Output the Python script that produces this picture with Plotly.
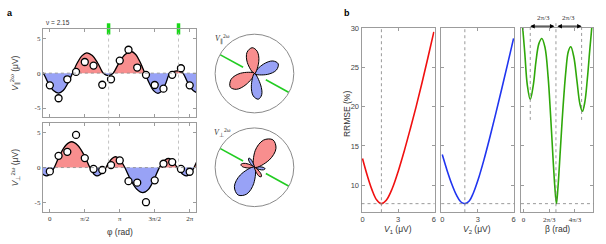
import numpy as np
import plotly.graph_objects as go

PI = np.pi
W, H = 606, 244

# ---------------- data ----------------
PHI_PTS = [k * PI / 8 for k in range(17)]
V_PAR_PTS = [-1.75, -3.6, -0.88, 0.18, 1.6, 1.08, -1.66, -0.88, 1.8, 3.35,
             0.8, -0.24, -1.7, -2.22, -0.24, 0.7, -1.75]
V_PERP_PTS = [-0.55, 1.68, 2.25, 4.68, 1.36, -0.2, -0.35, 0.35, 1.02, -1.95,
              -2.16, -4.96, -1.83, 0.55, 0.78, -0.2, -0.6]

PHI_PAR_CURVE = [-0.42, -0.30, -0.07, 0.16, 0.39, 0.60, 0.81, 1.02,
                 1.23, 1.45, 1.66, 1.91, 2.15, 2.40,
                 2.51, 2.63, 2.74, 2.85,
                 3.12, 3.38, 3.65, 3.86, 4.06, 4.27,
                 4.47, 4.66, 4.86, 5.04, 5.21, 5.39,
                 5.55, 5.72, 5.86, 5.98,
                 6.21, 6.44, 6.67]
V_PAR_CURVE = [0.23, 0.0, -1.44, -2.49, -2.87, -2.49, -1.44, 0.0,
               1.45, 2.51, 2.9, 2.51, 1.45, 0.0,
               -0.24, -0.33, -0.24, 0.0,
               1.55, 2.68, 3.1, 2.68, 1.55, 0.0,
               -1.45, -2.51, -2.9, -2.51, -1.45, 0.0,
               0.23, 0.33, 0.23, 0.0,
               -1.44, -2.49, -2.87]

PHI_PERP_CURVE = [-0.56, -0.42, -0.28, -0.14, -0.03, 0.09, 0.20,
                  0.46, 0.72, 0.98, 1.25, 1.53, 1.80,
                  1.91, 2.01, 2.12, 2.25, 2.39, 2.52,
                  2.66, 2.81, 2.95, 3.09, 3.23, 3.37,
                  3.64, 3.91, 4.18, 4.43, 4.67, 4.92,
                  5.06, 5.19, 5.33, 5.46, 5.59, 5.72,
                  5.86, 6.00, 6.14, 6.25, 6.37, 6.48,
                  6.74]
V_PERP_CURVE = [0.0, -0.6, -1.04, -1.2, -1.04, -0.6, 0.0,
                1.85, 3.2, 3.7, 3.2, 1.85, 0.0,
                -0.6, -1.04, -1.2, -1.04, -0.6, 0.0,
                0.78, 1.34, 1.55, 1.34, 0.78, 0.0,
                -1.8, -3.12, -3.6, -3.12, -1.8, 0.0,
                0.65, 1.13, 1.3, 1.13, 0.65, 0.0,
                -0.6, -1.04, -1.2, -1.04, -0.6, 0.0,
                1.85]

BETA_FIT = 2.64
V1_FIT = 1.59
V2_FIT = 1.90
RRMSE_MIN = 7.66

V1_GRID = [0, 0.4, 0.8, 1.2, 1.59, 2.0, 2.5, 3.0, 3.5, 4.0, 4.5, 5.0, 5.5, 6.0]
RRMSE_V1 = [13.4, 11.24, 9.41, 8.12, 7.66, 8.09, 9.58, 11.76, 14.3, 17.06,
            19.93, 23.0, 26.2, 29.5]
V2_GRID = [0, 0.4, 0.8, 1.2, 1.55, 1.9, 2.25, 2.6, 3.0, 3.5, 4.0, 4.5, 5.0,
           5.5, 6.0]
RRMSE_V2 = [13.9, 11.92, 10.16, 8.73, 7.9, 7.66, 7.96, 8.95, 10.62, 13.19,
            16.06, 19.1, 22.23, 25.42, 28.66]
BETA_GRID = [-0.3, -0.1, 0.1, 0.3, 0.545, 0.8, 1.0, 1.25, 1.49, 1.75, 2.0,
             2.2, 2.4, 2.55, 2.68, 2.8, 3.0, 3.2, 3.45, 3.65, 3.85, 4.1,
             4.35, 4.6, 4.8, 5.0, 5.2, 5.4, 5.56, 5.75]
RRMSE_BETA = [33.0, 30.4, 26.8, 22.8, 20.9, 22.8, 25.6, 28.0, 28.66, 27.5,
              23.8, 19.0, 13.5, 9.8, 7.66, 9.6, 14.5, 19.5, 24.5, 27.0, 27.6,
              26.3, 23.3, 20.3, 19.4, 20.6, 23.5, 27.2, 30.0, 33.5]
SIDE_MIN_LEVEL = 18.3

PHI_TICKS = [0, PI / 2, PI, 3 * PI / 2, 2 * PI]
PHI_TICK_TEXT = ["0", "π/2", "π", "3π/2", "2π"]
A_Y_TICKS = [-5, 0, 5]
A_Y_TICK_TEXT = ["-5", "0", "5"]
V_TICKS = [0, 3, 6]
R_TICKS = [10, 15, 20, 25, 30]
BETA_TICKS = [0, 2 * PI / 3, 4 * PI / 3]
BETA_TICK_TEXT = ["0", "2π/3", "4π/3"]

# ---------------- style ----------------
RED_FILL = "rgb(248,142,142)"
BLUE_FILL = "rgb(152,162,246)"
AX_COL = "#9c9c9c"
TXT = "#333333"
SERIF = "Liberation Serif"
SANS = "Liberation Sans"


def px_x(p):
    return p / W


def px_y(p):
    return 1 - p / H


A_X_DOM = [px_x(42), px_x(196)]
A_X_RANGE = [-0.313, 6.583]
A1_Y_DOM = [px_y(115), px_y(25.3)]
A2_Y_DOM = [px_y(211), px_y(121.3)]
A_Y_RANGE = [-6.30, 6.34]
B_Y_DOM = [px_y(211.7), px_y(24.3)]
B_Y_RANGE = [6.57, 30.0]
B1_X_DOM = [px_x(361.7), px_x(435)]
B2_X_DOM = [px_x(441.7), px_x(515)]
B3_X_DOM = [px_x(521.7), px_x(594.3)]
B_V_RANGE = [-0.084, 6.06]
B_BETA_RANGE = [-0.211, 5.69]


def to_paper(val, dom, rng):
    return dom[0] + (val - rng[0]) / (rng[1] - rng[0]) * (dom[1] - dom[0])


def split_lobes(x, y):
    segs = []
    cx, cy = [x[0]], [y[0]]
    for xi, yi in zip(x[1:], y[1:]):
        cx.append(xi)
        cy.append(yi)
        if yi == 0:
            segs.append((cx, cy))
            cx, cy = [xi], [yi]
    if len(cx) > 1:
        segs.append((cx, cy))
    return segs


fig = go.Figure()

# ---------------- panel a ----------------
for (phi_c, v_c, phi_p, v_p, xa, ya) in [
        (PHI_PAR_CURVE, V_PAR_CURVE, PHI_PTS, V_PAR_PTS, "x", "y"),
        (PHI_PERP_CURVE, V_PERP_CURVE, PHI_PTS, V_PERP_PTS, "x2", "y2")]:
    for sx, sy in split_lobes(phi_c, v_c):
        col = RED_FILL if sum(sy) > 0 else BLUE_FILL
        fig.add_trace(go.Scatter(x=sx, y=sy, mode="lines", xaxis=xa, yaxis=ya,
                                 line=dict(width=0.5, color=col, shape="spline"),
                                 fill="tozeroy", fillcolor=col,
                                 hoverinfo="skip", showlegend=False))
    fig.add_trace(go.Scatter(x=phi_c, y=v_c, mode="lines", xaxis=xa, yaxis=ya,
                             line=dict(color="black", width=1.3, shape="spline"),
                             showlegend=False))
    fig.add_trace(go.Scatter(x=phi_p, y=v_p, mode="markers", xaxis=xa, yaxis=ya,
                             marker=dict(symbol="circle", size=7, color="white",
                                         line=dict(color="black", width=1.3)),
                             cliponaxis=False, showlegend=False))

# green markers on top edge
fig.add_trace(go.Scatter(x=[BETA_FIT, BETA_FIT + PI], y=[A_Y_RANGE[1]] * 2,
                         mode="markers", xaxis="x", yaxis="y",
                         marker=dict(symbol="line-ns", size=8,
                                     line=dict(color="#1ad81a", width=3.5)),
                         cliponaxis=False, showlegend=False))

# ---------------- polar insets ----------------
for (phi_c, v_c, sub) in [(PHI_PAR_CURVE, V_PAR_CURVE, "polar"),
                          (PHI_PERP_CURVE, V_PERP_CURVE, "polar2")]:
    zeros = [p for p, v in zip(phi_c, v_c) if v == 0]
    start = zeros[0]
    for sx, sy in split_lobes(phi_c, v_c):
        if sy[0] != 0 or sy[-1] != 0:
            continue
        if sx[0] < start - 1e-9 or sx[-1] > start + 2 * PI + 0.05:
            continue
        col = RED_FILL if sum(sy) > 0 else BLUE_FILL
        fig.add_trace(go.Scatterpolar(r=[abs(v) for v in sy], theta=sx,
                                      thetaunit="radians", mode="lines",
                                      fill="toself", fillcolor=col,
                                      line=dict(color="black", width=1, shape="spline"),
                                      subplot=sub, showlegend=False,
                                      hoverinfo="skip"))
    for th in [BETA_FIT, BETA_FIT + PI]:
        fig.add_trace(go.Scatterpolar(r=[1.45, 4.4], theta=[th, th],
                                      thetaunit="radians", mode="lines",
                                      line=dict(color="#22cc22", width=1.6),
                                      subplot=sub, showlegend=False))

# ---------------- panel b ----------------
fig.add_trace(go.Scatter(x=V1_GRID, y=RRMSE_V1, mode="lines", xaxis="x3", yaxis="y3",
                         line=dict(color="#f01010", width=1.6, shape="spline"),
                         showlegend=False))
fig.add_trace(go.Scatter(x=V2_GRID, y=RRMSE_V2, mode="lines", xaxis="x4", yaxis="y4",
                         line=dict(color="#2035f0", width=1.6, shape="spline"),
                         showlegend=False))
fig.add_trace(go.Scatter(x=BETA_GRID, y=RRMSE_BETA, mode="lines", xaxis="x5", yaxis="y5",
                         line=dict(color="#2fa80a", width=1.6, shape="spline"),
                         showlegend=False))

# ---------------- axes ----------------
def axstyle(**kw):
    d = dict(showline=True, linecolor=AX_COL, linewidth=1, mirror="ticks",
             ticks="inside", ticklen=3, tickcolor=AX_COL, tickwidth=1,
             showgrid=False, zeroline=False)
    d.update(kw)
    return d


serif_tick = dict(family=SERIF, size=7, color=TXT)
sans_tick = dict(family=SANS, size=7.5, color="#444")

layout = dict(
    width=W, height=H, margin=dict(l=0, r=0, t=0, b=0),
    paper_bgcolor="white", plot_bgcolor="rgba(0,0,0,0)", showlegend=False,
    xaxis=axstyle(domain=A_X_DOM, range=A_X_RANGE, anchor="y",
                  tickvals=PHI_TICKS, showticklabels=False),
    yaxis=axstyle(domain=A1_Y_DOM, range=A_Y_RANGE, anchor="x",
                  tickvals=A_Y_TICKS, ticktext=A_Y_TICK_TEXT, tickfont=serif_tick),
    xaxis2=axstyle(domain=A_X_DOM, range=A_X_RANGE, anchor="y2",
                   tickvals=PHI_TICKS, ticktext=PHI_TICK_TEXT, tickfont=serif_tick),
    yaxis2=axstyle(domain=A2_Y_DOM, range=A_Y_RANGE, anchor="x2",
                   tickvals=A_Y_TICKS, ticktext=A_Y_TICK_TEXT, tickfont=serif_tick),
    xaxis3=axstyle(domain=B1_X_DOM, range=B_V_RANGE, anchor="y3",
                   tickvals=V_TICKS, tickfont=sans_tick),
    yaxis3=axstyle(domain=B_Y_DOM, range=B_Y_RANGE, anchor="x3",
                   tickvals=R_TICKS, tickfont=sans_tick),
    xaxis4=axstyle(domain=B2_X_DOM, range=B_V_RANGE, anchor="y4",
                   tickvals=V_TICKS, tickfont=sans_tick),
    yaxis4=axstyle(domain=B_Y_DOM, range=B_Y_RANGE, anchor="x4",
                   tickvals=R_TICKS, showticklabels=False),
    xaxis5=axstyle(domain=B3_X_DOM, range=B_BETA_RANGE, anchor="y5",
                   tickvals=BETA_TICKS, ticktext=BETA_TICK_TEXT, tickfont=serif_tick),
    yaxis5=axstyle(domain=B_Y_DOM, range=B_Y_RANGE, anchor="x5",
                   tickvals=R_TICKS, showticklabels=False),
)

polar_common = dict(
    bgcolor="rgba(0,0,0,0)",
    radialaxis=dict(visible=False, range=[0, 4.4]),
    angularaxis=dict(showline=True, linecolor="#8a8a8a", linewidth=1, showgrid=False,
                     ticks="", showticklabels=False, thetaunit="radians",
                     direction="counterclockwise", rotation=0),
)
layout["polar"] = dict(domain=dict(x=[px_x(214.3), px_x(294.3)],
                                   y=[px_y(110.7), px_y(30.7)]), **polar_common)
layout["polar2"] = dict(domain=dict(x=[px_x(214.3), px_x(294.3)],
                                    y=[px_y(206), px_y(126)]), **polar_common)
fig.update_layout(**layout)

# ---------------- shapes ----------------
shapes = []
dot = dict(color="#b4b4b4", width=0.8, dash="dot")
# zero lines panel a
for ya, xa in [("y", "x"), ("y2", "x2")]:
    shapes.append(dict(type="line", xref=xa + " domain", yref=ya, x0=0, x1=1,
                       y0=0, y1=0, line=dict(color="#8a8a8a", width=0.8, dash="dot")))
# vertical guides panel a (top of upper panel down to zero of lower panel)
y_low = to_paper(0, A2_Y_DOM, A_Y_RANGE)
for b in [BETA_FIT, BETA_FIT + PI]:
    shapes.append(dict(type="line", xref="x", yref="paper", x0=b, x1=b,
                       y0=y_low, y1=A1_Y_DOM[1], line=dot))
# panel b guides
dotb = dict(color="#808080", width=0.8, dash="dot")
for xa, ya, xv in [("x3", "y3", V1_FIT), ("x4", "y4", V2_FIT)]:
    shapes.append(dict(type="line", xref=xa, yref=ya + " domain", x0=xv, x1=xv,
                       y0=0, y1=1, line=dotb))
for xa, ya in [("x3", "y3"), ("x4", "y4"), ("x5", "y5")]:
    shapes.append(dict(type="line", xref=xa + " domain", yref=ya, x0=0, x1=1,
                       y0=RRMSE_MIN, y1=RRMSE_MIN, line=dotb))
shapes.append(dict(type="line", xref="x5", yref="paper", x0=BETA_FIT, x1=BETA_FIT,
                   y0=B_Y_DOM[0], y1=B_Y_DOM[1] + 6 / H, line=dotb))
y_side_low = to_paper(SIDE_MIN_LEVEL, B_Y_DOM, B_Y_RANGE)
for b in [BETA_FIT - 2 * PI / 3, BETA_FIT + 2 * PI / 3]:
    shapes.append(dict(type="line", xref="x5", yref="paper", x0=b, x1=b,
                       y0=y_side_low, y1=B_Y_DOM[1] + 4 / H, line=dotb))
fig.update_layout(shapes=shapes)

# ---------------- annotations ----------------
ann = []


def txt(x, y, s, size=8, family=SANS, color=TXT, angle=0, xanchor="center",
        yanchor="middle", xref="paper"):
    ann.append(dict(x=x, y=y, xref=xref, yref="paper", text=s, showarrow=False,
                    font=dict(size=size, family=family, color=color),
                    textangle=angle, xanchor=xanchor, yanchor=yanchor))


txt(px_x(4), px_y(9), "<b>a</b>", size=9, color="black", xanchor="left")
txt(px_x(342), px_y(9), "<b>b</b>", size=9, color="black", xanchor="left")
txt(px_x(43), px_y(19), "ν = 2.15", size=6.5, xanchor="left")
txt(px_x(14), px_y(70), "<i>V</i><sub>∥</sub><sup>2ω</sup> (μV)", size=8.5, angle=-90)
txt(px_x(14), px_y(166), "<i>V</i><sub>⊥</sub><sup>2ω</sup> (μV)", size=8.5, angle=-90)
txt(px_x(119), px_y(232), "φ (rad)", size=8.5)
txt(px_x(222), px_y(36), "<i>V</i><sub>∥</sub><sup>2ω</sup>", size=8, family=SERIF)
txt(px_x(222), px_y(131), "<i>V</i><sub>⊥</sub><sup>2ω</sup>", size=8, family=SERIF)
txt(px_x(347), px_y(112), "RRMSE (%)", size=8.5, angle=-90)
txt(px_x(398), px_y(229), "<i>V</i><sub>1</sub> (μV)", size=8.5)
txt(px_x(478), px_y(229), "<i>V</i><sub>2</sub> (μV)", size=8.5)
txt(px_x(558), px_y(229), "β (rad)", size=8.5)

arrow_y = B_Y_DOM[1] + 1.8 / H
for tip in [BETA_FIT - 2 * PI / 3, BETA_FIT + 2 * PI / 3]:
    ann.append(dict(x=tip, y=arrow_y, xref="x5", yref="paper", ax=BETA_FIT, ay=0,
                    axref="x5", ayref="pixel", text="", showarrow=True,
                    arrowhead=2, arrowside="end+start", arrowsize=0.9,
                    arrowwidth=1, arrowcolor="black", standoff=0, startstandoff=0))
    txt((tip + BETA_FIT) / 2, px_y(14), "2π/3", size=7, family=SERIF, xref="x5")

fig.update_layout(annotations=ann)

fig.write_html("out.html", config={"displayModeBar": False},
               post_script="document.body.style.margin='0px';"
                           "document.body.style.padding='0px';")
